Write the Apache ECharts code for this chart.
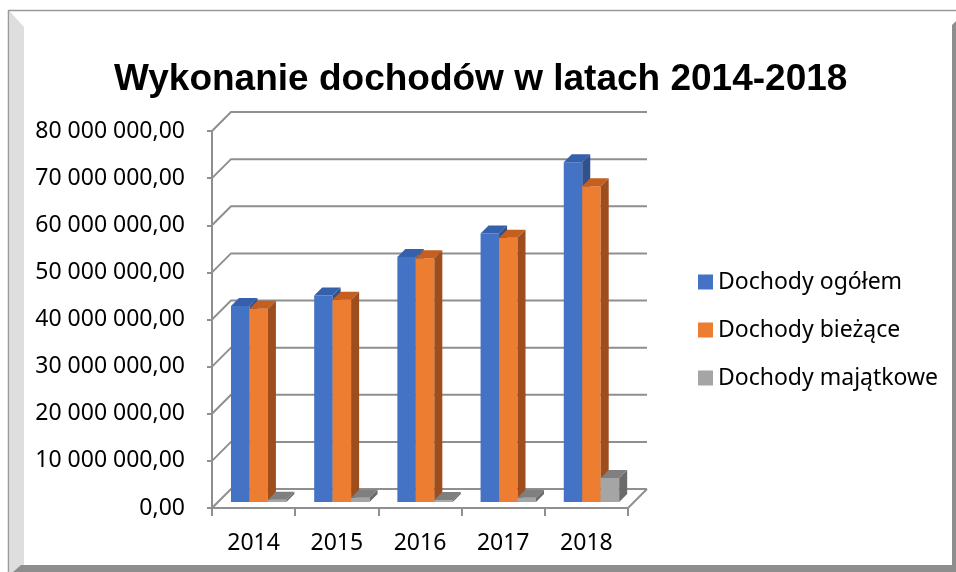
<!DOCTYPE html>
<html>
<head>
<meta charset="utf-8">
<script src="https://cdn.jsdelivr.net/npm/echarts@6/dist/echarts.min.js"></script>
<style>
html,body{margin:0;padding:0;background:#fff;}
#chart{width:956px;height:572px;}
</style>
</head>
<body>
<div id="chart"></div>
<script>
// ---- data ----
const categories = ['2014', '2015', '2016', '2017', '2018'];
const dochodyOgolem = [41600000, 43800000, 52000000, 57000000, 72100000];
const dochodyBiezace = [41000000, 42900000, 51700000, 56100000, 67000000];
const dochodyMajatkowe = [500000, 900000, 400000, 900000, 5100000];
const seriesNames = ['Dochody ogółem', 'Dochody bieżące', 'Dochody majątkowe'];
const yTicks = [0, 10000000, 20000000, 30000000, 40000000, 50000000, 60000000, 70000000, 80000000];

// ---- styling ----
const D = 19;       // back-wall offset
const DZ = 6;       // bar depth position
const K = 8;        // bar side depth
const START = 0.228, WID = 0.222;
const palettes = [
  {front:'#4472C4', top:'#3460AC', side:'#2F528F'},
  {front:'#ED7D31', top:'#C55E1E', side:'#9E4E1C'},
  {front:'#A5A5A5', top:'#7F7F7F', side:'#6B6B6B'}
];
const gridColor = '#8f8f8f';

function fmt(v){
  const s = Math.round(v).toString().replace(/\B(?=(\d{3})+(?!\d))/g, ' ');
  return s + ',00';
}

function barSeries(name, values, sIdx){
  const pal = palettes[sIdx];
  return {
    type:'custom', name:name, z:3,
    itemStyle:{color:pal.front},
    data: categories.map((c,i)=>[i, values[i]]),
    renderItem: function(params, api){
      const i = api.value(0), v = api.value(1);
      const base = api.coord([i, 0]);
      const top = api.coord([i, v]);
      const bw = api.size([1, 0])[0];
      const x = base[0] - bw/2 + (START + sIdx*WID)*bw;
      const w = WID*bw;
      const yb = base[1] - DZ, yt = top[1] - DZ;
      return {type:'group', children:[
        {type:'rect', shape:{x:x, y:yt, width:w, height:Math.max(0,yb-yt)}, style:{fill:pal.front}},
        {type:'polygon', shape:{points:[[x,yt],[x+K,yt-K],[x+w+K,yt-K],[x+w,yt]]}, style:{fill:pal.top}},
        {type:'polygon', shape:{points:[[x+w,yt],[x+w+K,yt-K],[x+w+K,yb-K],[x+w,yb]]}, style:{fill:pal.side}}
      ]};
    }
  };
}

const gridSeries = {
  type:'custom', name:'grid3d', silent:true, z:1,
  data: yTicks.map(v=>[0, v]),
  renderItem: function(params, api){
    const cs = params.coordSys;
    const v = api.value(1);
    const y = api.coord([0, v])[1];
    const x0 = cs.x, x1 = cs.x + cs.width;
    const children = [
      {type:'polyline', shape:{points:[[x0,y],[x0+D,y-D],[x1+D,y-D]]}, style:{stroke:gridColor, lineWidth:2, fill:null}}
    ];
    if (v === 0) {
      children.push({type:'line', shape:{x1:x1, y1:y, x2:x1+D, y2:y-D}, style:{stroke:gridColor, lineWidth:2}});
    }
    return {type:'group', children:children};
  }
};

const chart = echarts.init(document.getElementById('chart'), null, {renderer:'canvas'});
chart.setOption({
  animation:false,
  backgroundColor:'#ffffff',
  title:{
    text:'Wykonanie dochodów w latach 2014-2018',
    left:114, top:59, padding:0,
    textStyle:{fontFamily:'Liberation Sans', fontWeight:'bold', fontSize:37, color:'#000', lineHeight:41}
  },
  legend:{
    orient:'vertical', left:698, top:270, padding:0,
    data:seriesNames,
    icon:'rect', itemWidth:15, itemHeight:15, itemGap:24,
    textStyle:{fontFamily:'Noto Sans', fontSize:23, color:'#000', lineHeight:24},
    selectedMode:false
  },
  grid:{left:212, right:328, top:131, bottom:64},
  xAxis:{
    type:'category', data:categories,
    axisLine:{lineStyle:{color:gridColor, width:2}},
    axisTick:{show:true, length:8, lineStyle:{color:gridColor, width:2}},
    axisLabel:{fontFamily:'Noto Sans', fontSize:23, color:'#000', margin:24},
    z:5
  },
  yAxis:{
    type:'value', min:0, max:80000000, interval:10000000,
    axisLine:{show:true, lineStyle:{color:gridColor, width:2}},
    axisTick:{show:true, length:5, lineStyle:{color:gridColor, width:2}},
    splitLine:{show:false},
    axisLabel:{fontFamily:'Noto Sans', fontSize:23, color:'#000', margin:27, formatter:fmt},
    z:5
  },
  graphic:[
    {type:'line', shape:{x1:8, y1:10.5, x2:956, y2:10.5}, style:{stroke:'#9a9a9a', lineWidth:1.5}, z:100},
    {type:'line', shape:{x1:8.5, y1:10, x2:8.5, y2:572}, style:{stroke:'#9a9a9a', lineWidth:1.5}, z:100},
    {type:'polygon', shape:{points:[[9.5,11],[24,27],[24,572],[9.5,572]]}, style:{fill:'#dedede'}, z:99},
    {type:'polygon', shape:{points:[[13,572],[21,565],[956,565],[956,572]]}, style:{fill:'#8e8e8e'}, z:100},
    {type:'polygon', shape:{points:[[952,25],[956,21],[956,572],[952,572]]}, style:{fill:'#8e8e8e'}, z:100}
  ],
  series:[
    gridSeries,
    barSeries(seriesNames[0], dochodyOgolem, 0),
    barSeries(seriesNames[1], dochodyBiezace, 1),
    barSeries(seriesNames[2], dochodyMajatkowe, 2)
  ]
});
</script>
</body>
</html>
